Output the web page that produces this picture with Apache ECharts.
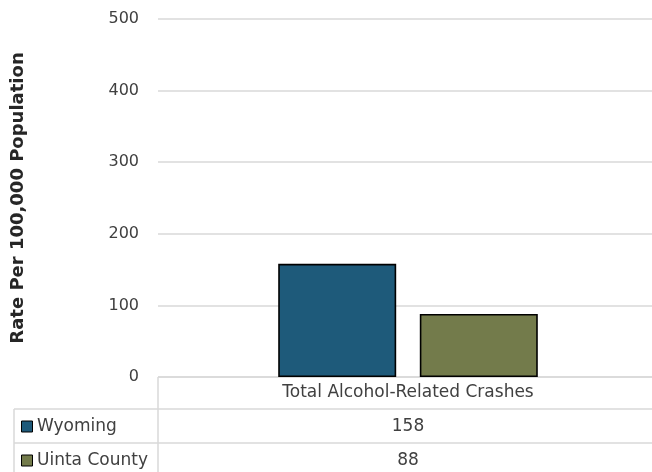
<!DOCTYPE html>
<html>
<head>
<meta charset="utf-8">
<script src="https://cdn.jsdelivr.net/npm/echarts@6/dist/echarts.min.js"></script>
<style>
html,body{margin:0;padding:0;background:#fff;overflow:hidden;}
#chart{width:658px;height:472px;}
</style>
</head>
<body>
<div id="chart"></div>
<script>
// ---- data ----
const categories = ['Total Alcohol-Related Crashes'];
const seriesNames = ['Wyoming', 'Uinta County'];
const wyomingValues = [158];
const uintaValues = [88];
const yAxisTitle = 'Rate Per 100,000 Population';
const yMin = 0, yMax = 500, yInterval = 100;

const colors = ['#1e5a7a', '#737b4b'];
const FONT = '"DejaVu Sans", "Open Sans", sans-serif';
const textColor = '#404040';
const lineColor = '#d9d9d9';

const chart = echarts.init(document.getElementById('chart'), null, {renderer: 'canvas'});

const seriesData = [wyomingValues, uintaValues];

const option = {
  animation: false,
  backgroundColor: '#fff',
  textStyle: {fontFamily: FONT},
  grid: {left: 158, right: 0, top: 19, bottom: 95, containLabel: false},
  xAxis: {
    type: 'category',
    data: categories,
    axisLine: {show: false},
    axisTick: {show: false},
    axisLabel: {show: false},
    splitLine: {show: false}
  },
  yAxis: {
    type: 'value',
    min: yMin, max: yMax, interval: yInterval,
    name: yAxisTitle,
    nameLocation: 'middle',
    nameGap: 131,
    nameRotate: 90,
    nameTextStyle: {fontFamily: FONT, fontSize: 18, fontWeight: 'bold', color: '#262626'},
    axisLine: {show: false},
    axisTick: {show: false},
    axisLabel: {fontFamily: FONT, fontSize: 16, color: textColor, margin: 19},
    splitLine: {lineStyle: {color: lineColor, width: 1.5}}
  },
  series: seriesNames.map((name, i) => ({
    name: name,
    type: 'bar',
    data: seriesData[i],
    barWidth: 118,
    barGap: '20%',
    itemStyle: {color: colors[i], borderColor: '#000', borderWidth: 1.6}
  }))
};

chart.setOption(option);

// ---- data table below the plot ----
const plotLeft = 158, right = 658;
const headerTop = 377, row1Top = 409, row2Top = 443, bottom = 478;
const tableLeft = 14;
const cx = chart.convertToPixel({xAxisIndex: 0}, categories[0]);

const g = [];
function hline(x1, x2, y) {
  g.push({type: 'line', shape: {x1: x1, y1: y, x2: x2, y2: y}, style: {stroke: lineColor, lineWidth: 1.5}, silent: true});
}
function vline(x, y1, y2) {
  g.push({type: 'line', shape: {x1: x, y1: y1, x2: x, y2: y2}, style: {stroke: lineColor, lineWidth: 1.5}, silent: true});
}
hline(plotLeft, right, headerTop);
hline(tableLeft, right, row1Top);
hline(tableLeft, right, row2Top);
vline(plotLeft, headerTop, bottom);
vline(tableLeft, row1Top, bottom);

g.push({type: 'text', x: cx, y: 393,
  style: {text: categories[0], font: '17px ' + FONT, fill: textColor, align: 'center', verticalAlign: 'middle'}});

const rowCenters = [427, 461];
seriesNames.forEach((name, i) => {
  const cy = rowCenters[i];
  g.push({type: 'rect', shape: {x: 21.5, y: cy - 6, width: 11, height: 11},
    style: {fill: colors[i], stroke: '#000', lineWidth: 1}});
  g.push({type: 'text', x: 37, y: cy,
    style: {text: name, font: '17px ' + FONT, fill: textColor, align: 'left', verticalAlign: 'middle'}});
  g.push({type: 'text', x: cx, y: cy,
    style: {text: String(seriesData[i][0]), font: '17px ' + FONT, fill: textColor, align: 'center', verticalAlign: 'middle'}});
});

chart.setOption({graphic: g});
</script>
</body>
</html>
